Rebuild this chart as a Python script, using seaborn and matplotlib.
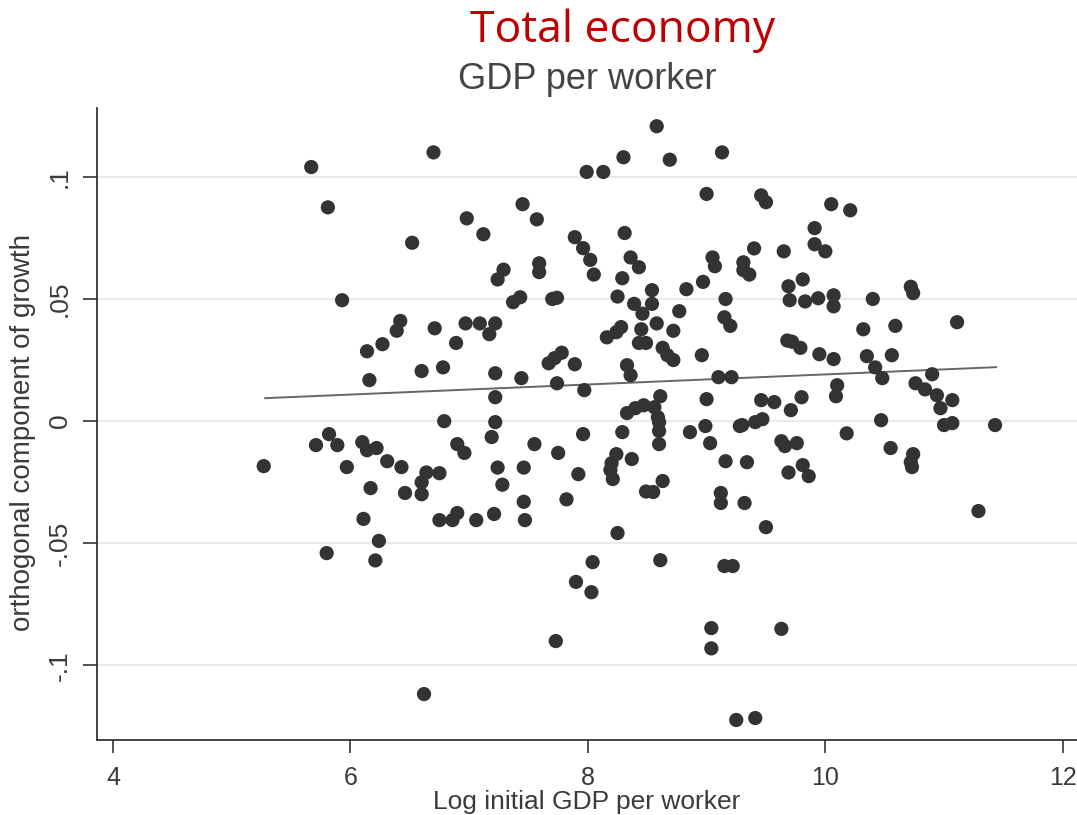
import matplotlib
matplotlib.use("Agg")
import matplotlib.pyplot as plt
import seaborn as sns
import pandas as pd

sns.set_theme(style="white")
plt.rcParams['font.family'] = ['Liberation Sans', 'DejaVu Sans']

# log initial GDP per worker
log_gdp = [
    5.67, 6.70, 5.81, 6.98, 7.12, 6.52, 7.24, 7.29, 5.93, 6.42, 6.39, 6.71, 6.97,
    7.09, 7.17, 7.22, 6.89, 6.27, 6.14, 6.60, 6.78, 6.16, 7.22, 7.22, 6.79, 7.22,
    8.58, 8.30, 8.69, 9.13, 7.99, 8.13, 9.00, 7.45, 7.57, 8.31, 7.89, 7.96, 8.02,
    8.05, 8.36, 8.43, 8.29, 7.59, 7.59, 7.37, 7.43, 7.70, 7.74, 8.25, 8.39, 8.46,
    8.54, 8.54, 8.58, 8.45, 8.43, 8.49, 8.28, 8.24, 8.16, 8.72, 8.77, 8.83, 8.97,
    9.05, 9.07, 9.16, 9.15, 9.20, 8.63, 8.67, 8.72, 8.96, 7.78, 7.72, 7.67, 7.89,
    7.44, 7.74, 7.97, 8.33, 8.36, 9.10, 9.21, 8.61, 9.00, 8.33, 8.40, 8.47, 8.56,
    8.59,
    9.46, 9.50, 10.05, 10.21, 9.91, 9.91, 10.00, 9.65, 9.40, 9.31, 9.31, 9.36,
    9.69, 9.81, 9.70, 9.83, 9.94, 10.07, 10.07, 10.40, 10.72, 10.74, 11.11, 10.32,
    10.59, 9.68, 9.72, 9.79, 9.95, 10.07, 10.35, 10.56, 10.42, 10.48, 10.90, 10.76,
    10.84, 10.94, 11.07, 10.97, 10.10, 10.09, 9.46, 9.57, 9.80, 9.71, 9.41, 9.47,
    9.30, 10.47, 11.00, 11.07, 11.43, 10.18,
    9.63, 9.66, 9.76, 9.34, 9.69, 9.81, 9.86, 10.55, 10.74, 10.72, 10.73, 9.32,
    9.50, 11.29, 9.63, 9.41, 9.25,
    7.19, 7.55, 7.96, 7.75, 7.24, 7.46, 7.28, 7.92, 7.46, 7.21, 7.47, 7.82, 8.29,
    8.24, 8.20, 8.19, 8.21, 8.37, 8.60, 8.60, 8.60, 8.86, 8.99, 9.03, 9.28, 9.16,
    8.63, 8.49, 8.55, 9.12, 9.12, 8.25, 8.04, 8.61, 7.90, 8.03, 9.15, 9.22, 9.04,
    9.04, 7.73,
    5.27, 5.71, 5.82, 5.89, 5.97, 6.10, 6.14, 6.22, 6.31, 6.43, 6.17, 6.46, 6.60,
    6.60, 6.64, 6.75, 6.90, 6.96, 6.11, 6.75, 6.86, 6.90, 7.06, 6.24, 6.21, 5.80,
    6.62,
]

# orthogonal component of growth
growth = [
    0.104, 0.110, 0.0875, 0.083, 0.0765, 0.073, 0.058, 0.062, 0.0495, 0.041, 0.037,
    0.038, 0.040, 0.040, 0.0356, 0.040, 0.032, 0.0315, 0.0286, 0.0205, 0.022,
    0.0168, 0.0196, 0.0098, 0.0, -0.0004,
    0.1207, 0.108, 0.107, 0.110, 0.102, 0.102, 0.093, 0.0888, 0.0826, 0.077,
    0.0753, 0.0708, 0.066, 0.060, 0.067, 0.063, 0.0585, 0.0646, 0.061, 0.0487,
    0.0507, 0.050, 0.0505, 0.051, 0.048, 0.044, 0.0536, 0.048, 0.040, 0.0376,
    0.032, 0.032, 0.0385, 0.0364, 0.0343, 0.037, 0.045, 0.054, 0.057, 0.067,
    0.0634, 0.050, 0.0425, 0.039, 0.030, 0.027, 0.025, 0.027, 0.028, 0.0258,
    0.0237, 0.0233, 0.0176, 0.0155, 0.0127, 0.0229, 0.0188, 0.018, 0.018, 0.0102,
    0.009, 0.0033, 0.0053, 0.0065, 0.0057, 0.0016,
    0.0924, 0.0896, 0.0888, 0.0863, 0.079, 0.0724, 0.0695, 0.0695, 0.0707, 0.065,
    0.0618, 0.060, 0.0552, 0.058, 0.0495, 0.049, 0.0503, 0.0515, 0.047, 0.050,
    0.055, 0.0524, 0.0405, 0.0376, 0.039, 0.033, 0.0325, 0.030, 0.0274, 0.0254,
    0.0266, 0.027, 0.022, 0.0176, 0.0192, 0.0155, 0.013, 0.0106, 0.0086, 0.0053,
    0.0147, 0.0102, 0.0086, 0.0078, 0.0098, 0.0045, -0.0004, 0.0008, -0.0016,
    0.0004, -0.0016, -0.0008, -0.0016, -0.005,
    -0.0082, -0.0102, -0.009, -0.0168, -0.021, -0.018, -0.0225, -0.011, -0.0135,
    -0.0168, -0.0188, -0.0335, -0.0434, -0.0368, -0.085, -0.1215, -0.1223,
    -0.0065, -0.0094, -0.0053, -0.013, -0.019, -0.019, -0.026, -0.0217, -0.033,
    -0.038, -0.0405, -0.032, -0.0045, -0.0135, -0.0172, -0.020, -0.0237, -0.0155,
    -0.0004, -0.004, -0.0094, -0.0045, -0.002, -0.009, -0.002, -0.0164, -0.0245,
    -0.0288, -0.029, -0.0294, -0.0335, -0.0458, -0.0577, -0.0569, -0.0658, -0.070,
    -0.0593, -0.0593, -0.0847, -0.093, -0.090,
    -0.0184, -0.0098, -0.0053, -0.0098, -0.0188, -0.0086, -0.0119, -0.011, -0.0164,
    -0.0188, -0.0274, -0.0294, -0.025, -0.0299, -0.021, -0.0213, -0.0094, -0.013,
    -0.040, -0.0405, -0.0405, -0.0376, -0.0405, -0.049, -0.057, -0.054, -0.1117,
]

# fitted line end points
fit_x = [5.28, 11.44]
fit_y = [0.0094, 0.0221]

x_ticks = [4, 6, 8, 10, 12]
y_ticks = [-0.1, -0.05, 0, 0.05, 0.1]
y_labels = ['-.1', '-.05', '0', '.05', '.1']

df = pd.DataFrame({'log_gdp': log_gdp, 'growth': growth})

fig = plt.figure(figsize=(10.77, 8.15), dpi=100)
ax = fig.add_axes([0.090, 0.092, 0.910, 0.775])

for yt in y_ticks:
    ax.axhline(yt, color='#e6e6e6', lw=1.2, zorder=0)

sns.scatterplot(data=df, x='log_gdp', y='growth', ax=ax, color='#333333',
                s=105, edgecolor='none', zorder=3)
ax.plot(fit_x, fit_y, color='#666666', lw=1.4, zorder=2)

ax.set_xlim(3.865, 12.12)
ax.set_ylim(-0.1305, 0.128)
ax.set_xticks(x_ticks)
ax.set_xticklabels([str(t) for t in x_ticks], fontsize=18, color='#3a3a3a')
ax.set_yticks(y_ticks)
ax.set_yticklabels(y_labels, fontsize=19, color='#3a3a3a', rotation=90, va='center')
ax.tick_params(axis='x', direction='out', length=9, width=1.2, color='#333333',
               bottom=True, pad=10)
ax.tick_params(axis='y', direction='out', length=10, width=1.2, color='#333333',
               left=True, pad=8)

for side in ['top', 'right']:
    ax.spines[side].set_visible(False)
for side in ['left', 'bottom']:
    ax.spines[side].set_color('#333333')
    ax.spines[side].set_linewidth(1.3)

ax.set_xlabel('Log initial GDP per worker', fontsize=19, color='#3a3a3a', labelpad=0)
ax.set_ylabel('orthogonal component of growth', fontsize=20, color='#3a3a3a')
ax.yaxis.set_label_coords(-0.062, 0.487)

fig.text(0.578, 0.962, 'Total economy', color='#C00000', fontsize=32,
         family=['Open Sans', 'DejaVu Sans'], ha='center', va='center')
fig.text(0.545, 0.903, 'GDP per worker', color='#444444', fontsize=26,
         ha='center', va='center')

fig.savefig('out.png', dpi=100, facecolor='white')
